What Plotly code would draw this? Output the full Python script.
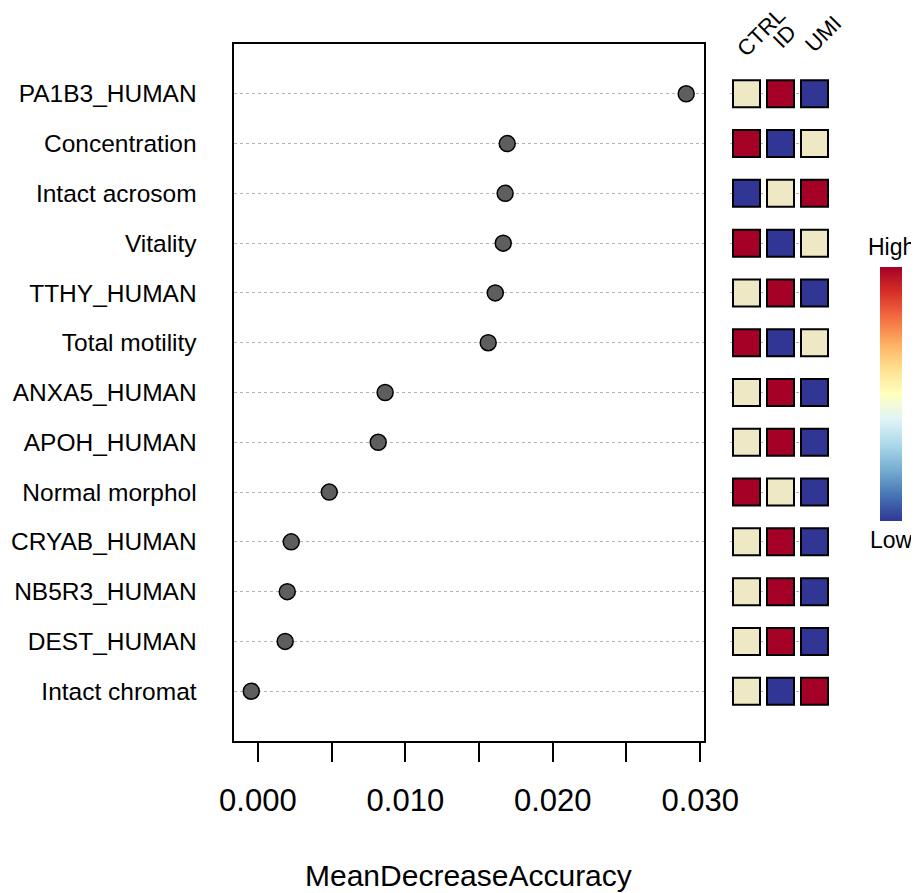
import plotly.graph_objects as go

# the page body adds an 8px margin, so the figure is drawn 8px smaller and offset
OFF = 8
W, H = 919 - OFF, 893 - OFF

# ---- data (top to bottom as in the picture) ----
features = ["PA1B3_HUMAN", "Concentration", "Intact acrosom", "Vitality", "TTHY_HUMAN",
            "Total motility", "ANXA5_HUMAN", "APOH_HUMAN", "Normal morphol", "CRYAB_HUMAN",
            "NB5R3_HUMAN", "DEST_HUMAN", "Intact chromat"]
mean_decrease_accuracy = [0.02905, 0.01691, 0.01677, 0.01664, 0.01610, 0.01562, 0.00863,
                          0.00816, 0.00484, 0.00226, 0.00199, 0.00185, -0.00045]
groups = ["CTRL", "ID", "UMI"]
ctrl_levels = ["Mid", "High", "Low", "High", "Mid", "High", "Mid", "Mid", "High", "Mid", "Mid", "Mid", "Mid"]
id_levels   = ["High", "Low", "Mid", "Low", "High", "Low", "High", "High", "Mid", "High", "High", "High", "Low"]
umi_levels  = ["Low", "Mid", "High", "Mid", "Low", "Mid", "Low", "Low", "Low", "Low", "Low", "Low", "High"]
x_tick_vals = [0.000, 0.005, 0.010, 0.015, 0.020, 0.025, 0.030]
x_tick_text = ["0.000", "", "0.010", "", "0.020", "", "0.030"]

level_colors = {"Low": "#313695", "Mid": "#EEE8C4", "High": "#A50026"}

# bottom-to-top order for the categorical y axis
feat_bt = features[::-1]
vals_bt = mean_decrease_accuracy[::-1]

def px(x):
    return (x - OFF) / W

def py(y):
    return 1 - (y - OFF) / H

FONT = "Liberation Sans, Arial, sans-serif"

fig = go.Figure()

fig.add_trace(go.Scatter(
    x=vals_bt, y=feat_bt, mode="markers",
    marker=dict(size=16, color="#5E5E5E", line=dict(color="black", width=1.5)),
    xaxis="x", yaxis="y", showlegend=False, hoverinfo="x+y"))

for g, lv in zip(groups, [ctrl_levels, id_levels, umi_levels]):
    fig.add_trace(go.Scatter(
        x=[g] * len(features), y=features, mode="markers",
        marker=dict(symbol="square", size=27,
                    color=[level_colors[v] for v in lv],
                    line=dict(color="black", width=2)),
        xaxis="x2", yaxis="y", showlegend=False, name=g))

# colorbar holder
fig.add_trace(go.Scatter(
    x=[None, None], y=[None, None], mode="markers", xaxis="x2", yaxis="y",
    showlegend=False, hoverinfo="skip",
    marker=dict(color=[0, 1], cmin=0, cmax=1, colorscale="RdYlBu_r", showscale=True,
                colorbar=dict(x=px(880), xanchor="left", xpad=0, thickness=22,
                              lenmode="pixels", len=254, y=py(394), yanchor="middle",
                              ypad=0, outlinewidth=0, showticklabels=False, ticks=""))))

fig.update_layout(
    width=W, height=H, margin=dict(l=0, r=0, t=0, b=0, pad=0, autoexpand=False),
    paper_bgcolor="white", plot_bgcolor="white",
    font=dict(family=FONT, color="black"),
    xaxis=dict(domain=[px(233.5), px(703.5)], range=[-0.001655, 0.030224],
               tickvals=x_tick_vals, ticktext=x_tick_text,
               ticks="outside", ticklen=19, tickwidth=2, tickcolor="black",
               tickfont=dict(size=31), ticklabelstandoff=12,
               showgrid=False, zeroline=False,
               showline=True, linecolor="black", linewidth=2, mirror=True,
               anchor="y", automargin=False),
    yaxis=dict(domain=[py(741), py(44)], range=[-1, 13],
               categoryorder="array", categoryarray=feat_bt,
               tickfont=dict(size=24.5), ticks="outside", ticklen=30,
               tickcolor="rgba(0,0,0,0)",
               showgrid=True, gridcolor="#B4B4B4", griddash="3px,3px", gridwidth=1.3,
               zeroline=False, showline=True, linecolor="black", linewidth=2,
               mirror=True, anchor="x", automargin=False),
    xaxis2=dict(domain=[px(729.5), px(831.5)], range=[-0.5, 2.5],
                categoryorder="array", categoryarray=groups,
                showticklabels=False, showgrid=False, zeroline=False, showline=False,
                anchor="y", automargin=False),
)

annotations = [
    dict(text="MeanDecreaseAccuracy", x=px(468), y=py(875), xref="paper", yref="paper",
         showarrow=False, font=dict(size=30), xanchor="center", yanchor="middle"),
    dict(text="High", x=px(891), y=py(247), xref="paper", yref="paper",
         showarrow=False, font=dict(size=23), xanchor="center", yanchor="middle"),
    dict(text="Low", x=px(891), y=py(540), xref="paper", yref="paper",
         showarrow=False, font=dict(size=23), xanchor="center", yanchor="middle"),
]
for g, cx, cy in zip(groups, [761, 784, 822.5], [33, 36, 34]):
    annotations.append(dict(text=g, x=px(cx), y=py(cy), xref="paper", yref="paper",
                            showarrow=False, textangle=-45, font=dict(size=22),
                            xanchor="center", yanchor="middle"))
fig.update_layout(annotations=annotations)

fig.write_html("out.html")
